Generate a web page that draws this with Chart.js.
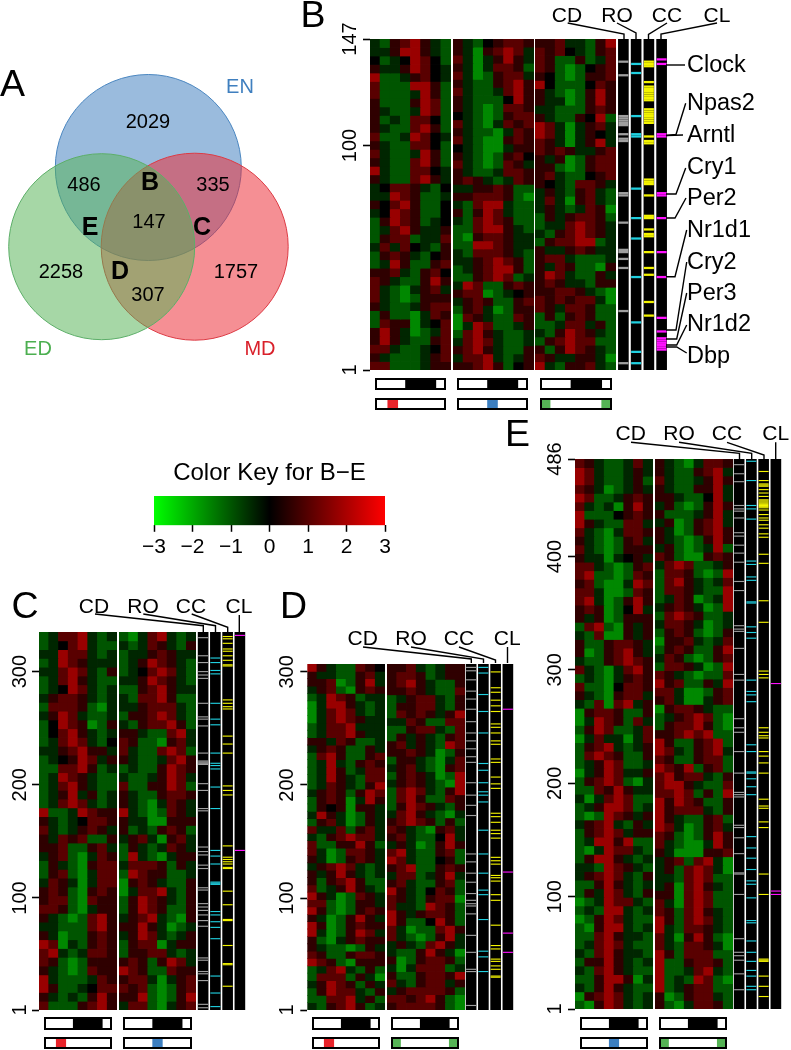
<!DOCTYPE html>
<html><head><meta charset="utf-8">
<script src="https://cdn.jsdelivr.net/npm/chart.js@4"></script>
<style>
html,body{margin:0;padding:0;background:#fff}
#page{position:relative;width:791px;height:1050px;overflow:hidden;font-family:"Liberation Sans",Arial,sans-serif}
canvas{position:absolute;display:block}
.t{position:absolute;white-space:nowrap;line-height:1;color:#000;transform:translate(-50%,-50%);z-index:5}
.l{transform:translate(0,-50%)}
</style></head><body><div id="page"></div>
<script>
/* ---------- values ---------- */
const vennSets=[{name:'ED',x:101.7,y:246.7,r:93,fill:'rgba(84,178,84,.52)',line:'#5cae68'},
{name:'MD',x:194.7,y:246.7,r:93.5,fill:'rgba(236,40,50,.52)',line:'#dc3a44'},
{name:'EN',x:148.3,y:167.5,r:93,fill:'rgba(62,125,190,.52)',line:'#4a86c0'}];
const vennCounts=[['2029',148,121],['486',84,184],['335',213,184],['147',149,221],['2258',61,271],['1757',236,271],['307',148,294]];
const vennLetters=[['B',150,181],['E',90,226],['C',202,226],['D',120,270]];
const keyStops=[-3,0,3];
const strengths={G:-1.6,g:-1,h:-.45,'.':0,s:.55,r:1.05,R:1.8};

const heatB_MD=["hgsrRshg","hhsRRshg",".gh.Rr.g","shhsRr.h","Rgghsr.h","rgggRRsg","rggghRsg","sgggsRrg","shgghRrg","sghgrr.g","shggrRsg","rgghRr.h","shggrr.g","rhgghRsg","shggrRsg","Rhggrr.h","shggrRsh","h.rrshg.","hhRrsggh","s.rRsgg.","h.Rrsgg.","gsRrsgh.","ghrRshhs","gsrrghhr","hrhr.hgs","gsrshg.s","ghRsggsr","ssrhgsr.","rshggsRs","rhgGhsrh","rhgGgsss","shgghsrr","gsggGhrs","grssGh.r","sRshGghr","sRshggsr","rrhggh.r","shggghsr","rrggghss"];
const heatB_EN=["shg.srrs","shGsrRrh","rhGhsRsh","shGhrrsg","rhGgsrrh","shggsrRs","rhgghrRs","shggg.Rs","shgGgrrs",".hgGgsrr","rhgGhrsr","shggGhrs","rhgGGsrs",".hgGGhss","shgGgsr.","rhgGgrsh","shgghrrs","srshghrs","hhssrsgg","ssrrrsgG","hgrRRhgg","sgsRrhgg","hgrRrsgg","ggrRRshg","gGsrrshh","ggRRrshh","hgrrrshg","hhsrRrsg","ghsrRRsg","ggsrRrgh","hRrggsrs","srrGgh.s","hsrsggsr","gsrhGgss","Grshggrs","GhRrgghs","grRshggh","hrRrhggh","srRshggs","hrrRhghs","ssrRsg.s"];
const heatB_ED=["ssrhhgsR","rsr.hgsr","rsggsghr","rsgGg.sr","s.gGgssr","R.ggg.rs","shgGgsRs","shhGgsRs","hhgggsrs","shggs.Rg","RrhGhsrh","RrhGhs.h","rshGhsRh","rsrshhsr","shsGgsrr","ssgGgsrr","srhgg.sr","s.hgrrsh","hshgsrhg","hrhGsrhg","hshghrsG","gshsrrsg","ghhrRrsh","hgsrRrsh","gsrrRRgh","shhsrshh","srrhgggh","shrsggGs","sRrhggsh","srshhgss","ssrrshgG","rsrsrrhG","rshrrsgg","gsgsrsgg","gghrrhsg","hgsRrshg","gsrRrrgg","sgsRrshg","rshhsshG","Rhgssrhg"];

const heatC_MD=["ghrrRhgh","gh.rRhgg","hhRrrhgh","ghRrshhh","hhrRrhgs","ghrRshgg","gh.Rrhgh","hsrrshgh","grrrsgGh","hsRrhggh","g.RrsGgs","g.rRshgh","ghrRrhg.","hhsrRssh","gh.sRrhs","ggrrRsgh","ghRrshgg","ghrRshgg","ghsRhsgh","ghrRrhgh","RgghRrss","shgh.rrs","rhghsrsh","shrsrggs","ssrggsrh","hsrgGhrs","gshgGsrr","gsrgGhrr","hrshGhrr","srsgGsrs","srrgGrss","rrsgGhss","shgGgrRs","hhgggrRs","shGggsrs","RrGhgsrs","rRhghrrs","rsgGgsss","shgGgrss","Rhggghrs","Rsggh.rr","shghgsRs","rgggsrRs"];
const heatC_EN=["gGhrRhgh","hghrshgs","ghhsrshh","ghsRrshg","gh.rRrhg","hhsRrshg","ggsrRshh","hgrrRsgg","hhsrrrhg","gssrRrhg","hgsrrRsg","sshggrRh","rsggGsrh","rhggrRrg","shgghrRs","ghggsRrs","hgghsRrh","rggssRrg","shggsrrs","shgGhrsh","RhgGgrsh","shhGGsss","sghgsrsg","hsrhGsrh","gshghrsh","gRhgGhss","hrrrsgsh","gRrssggh","Gsrshggs","GhrrRhgs","gsRrshgs","gsRrsggs","hsrRhgGs","ssRshGgh","hsRrhghs","gsrrGhss","gssrrhgh","srsgsRrh","Rrsggrss","srrhGhsr","rsrgGgsr","ssRgGgsR","hrrgGhsr"];

const heatD_MD=["Rshggrs.","shhggsrh","ssrGgsRh","hsrgGsrs","ghRrsghh","GhRRshgh","GhrRrhgh","GhrRrshh","ghrrRhhh","ghrrRshh","sshrsggh","hsrsggsh","grRsggsr","ghRhgsrs","ghRsghrr","ghRshgrr","ghrshgsR","hsrsgsRr","gsrsGhRs","gs.sGssh","hRshGgsh","gsrhGgsh","rhhrgsrh","hgsrRrrh","rggssRsg","rhGgrrsh","shGgsrsh","hsrRrhgh","shsRshgh","sgsrRsgg","rghsRshg","RshGgrsh","rrgGgssh","RsgGgsrs","shGgsRsh","RsGgsrss","RhGgsRrh","sgGhsrss","shggGgsh","rsggsrrs","RrsgGsss","ghrRhgsg","grrrgshG","hsRrsgsh","gsRrrhgs","ggrrRhsg","hgsrRsgh"];
const heatD_ED=["ssrhghss","srrsghss","srRshggs","ssrshggr","ghsrrhgs","gssrrhgs","grsrshsR","hhrsggrr","ggsrrhgr","gshshgsr","srhshgRr","ssrshGgs","gsshgGhr","hsrhgGsr","gsrshGgR","hsrshgGR","grRrhgsR","grRsggrs","gsRrshgs","hrRshgGh","srRrsgsg","rshgGsrh","srhgg.Rh","hshGgsRs","rRhggsrg","Rrhgg.sg","srRggsrs","hrrghsRh","srhggsrg","Rshg.rsg","rshgsrrG","rhhgRrsg","Rshsrrsg","Rsgg.Rsg","rhGggrRs","rhgGgsRh","hshgrRsh","hggsRshG","sGgsrrsg","hGhrrrgh","sggsrrsR","rhgsrrhs","hsrrrrsg","rrsrRsgG","srrrrsgG"];

const heatE_EN=["rshgghrh","Rrhgghsh","Rrhgghsg","rshGghsh","Rrgghsrs","rhghGsRs","Rggg.srs","Rshggrrh","rhgGhrrs","shgGgsrh","rhgGgsss","shhGh.sh","rrhgGgsr","rRggGgrs","srgGGhRr","rrhGGgrs","rRhGgsRs","srsGg.Rh","shsGgsss","grRgGshs","hgrGGshs","sggsrrsh","sGgsrRsh","hggsrRrs","rhgGhrRs","ghgGhsrs","rggG.rrs","shgGsrrh","hgrGrRhs","Gsrrsggs","GhRrsgrh","gsRrgghr","GhrhhGhr","gsrRhghs","grRrsggs","ghsRrggh","GhsRrhhs","gsrRrgGh","ggrsRshh","hGhrRrgg","ghsRRrgh","gGgRrshs","hsrRhgsh","gsrRrhss","ghRRsRgg","gGhRrrhg","gsRRshgh","hhgRrshg","hsrRrhgs","ggsRshgh","gshRrhgs","GghRrrhg","ghgRRhgh","GgsRrhgg","gGsRRhgh","ggrRshhg","ghrRrhgg","hgrRshhg","gssRshgh","hgrRshgg","ggsRRsGh","hgsRshgg","GsrRrhgh","gGsRrhgh"];
const heatE_ED=["shgGhrrs","shggsrRh","rhgghsRs","shggssRh","sshgg.Rh","hsgGgsRs","sggghsRh","hsGgsrRh","shGgsrRs","shgGgsRs","hsgGghRg","rsgGGsrs","hrRrgghs","grrsgGgR","grRshghr","grrshggR","ghrsGghR","hsrshGgR","grRrsggh","hrrshGgh","gsrsgGgs","Gssrhghr","gsrsggsR","hrsgGgsr","grrshGgR","rshgGggr","RsrggshR","rrhGGgsr","srhGGhsr","Gsrrshgg","ghsrRrgG","gsrrRsgG","ssrRrRgg","RsggsrRg","RrhgsrRh","rsggsrrg","RrsRgsrg","rRsrrhgs","rRRshggr","rrRrgsgR","RsRrsggs","Rsrrrhgs","Rshggsrg","RrhGgsrh","rsgGgsRs","rhgGGhRs","shGGGssr","hsrgrRhG","hsgrRrhG","hhgrRrgg","hsGrRshg","ssGrRrgg","rhGrRrgg","rsgrRshg","RsgrRrhg","Rhgrrshg","rhGsRsgG","rhgrrshG","Rsgrrrgg","Rggsrrsg","RgghrRhg","RghgRrgG","Rghsrrgg","sGgsrrhg","sgGhrrsg"];

const hitsB={CD:[137,131,113,112,111,110,109,105,103,102,79,78,66,54,53,50,46,27,4],
RO:[136,132,113,105,104,81,68,59,42,22,9,4],
CC:[137,136,135,128,126,125,124,123,122,121,120,116,115,114,113,112,111,110,104,102,101,85,84,83,78,69,68,63,61,60,53,46,43,31,25],
CL:[138,136,105,104,79,78,68,53,42,24,18,15,14,13,12,11,10]};
const hitsC={CD:[330,314,308,300,297,294,272,260,258,252,228,221,220,219,218,201,195,179,177,145,141,138,129,126,109,107,95,92,89,85,80,75,47,45,35,33,27,6,3],
RO:[312,308,301,298,272,258,253,228,219,217,214,198,179,142,137,130,114,113,112,88,85,79,74,64,31,16,4],
CC:[331,329,325,320,318,314,310,306,305,275,272,269,267,243,236,228,199,195,191,146,136,134,132,130,127,126,106,94,81,80,58,42,41,22],
CL:[332,142]};
const hitsD={CD:[304,301,293,283,276,267,256,246,239,232,225,220,202,191,182,173,139,132,122,114,104,98,95,93,86,67,52,37,35,5],
RO:[304,299,280,265,246,219,213,202,194,191,185,160,139,122,107,103,81,53,48,35],
CC:[300,286,282,275,270,265,254,251,246,239,236,223,220,207,201,197,175,172,167,160,157,153,136,133,130,120,118,115,103,98,76,58,55,46,44,40,37,31,30],
CL:[267,123,69,52]};
const hitsE={CD:[481,473,466,445,442,440,434,421,418,410,403,395,378,370,339,336,334,319,296,291,257,249,245,228,209,192,190,188,163,161,152,138,121,120,102,63,51,48,44,32,18],
RO:[484,467,445,442,433,396,393,382,379,360,359,338,333,328,291,281,278,272,234,228,210,209,204,197,190,153,143,134,124,114,111,99,79,77,61,51,43,35,30,21,18],
CC:[475,467,464,463,462,459,456,453,450,449,448,447,446,445,444,443,441,437,434,432,428,425,420,417,402,394,361,342,299,296,293,249,245,242,240,228,224,218,209,186,180,178,166,161,120,102,45,44,43,30,21,12],
CL:[288,105,102]};
const trackNames=['CD','RO','CC','CL'];
const trackColors={CD:'#a0a0a0',RO:'#20d0e0',CC:'#f4f400',CL:'#ff10ff'};
const stripDark=[[0.43,0.857]];
const stripMD=[[0.18,0.32]], stripEN=[[0.43,0.57]], stripED=[[0,0.14],[0.857,1]];
const geneLabels=[['Clock',65],['Npas2',103],['Arntl',135],['Cry1',167],['Per2',198],['Nr1d1',230],['Cry2',262],['Per3',293],['Nr1d2',324],['Dbp',356]];
const leaders=[
[[567.7,23],[624,34],[624,39]],[[617,23],[636,33],[636,39]],[[667,23],[648.5,34.5],[648.5,39]],[[717,23],[661,34],[661,39]],
[[666,65],[685,65]],[[666,135.5],[683,135]],[[666,135.5],[676,134.5],[685.7,103.3]],[[666,194],[676,194],[685.7,168]],[[666,218],[675,218],[686,198]],
[[666,276.7],[675,276.7],[686.7,230]],[[666,330],[676,330],[686.7,262]],[[666,339],[676.7,339],[686.7,293]],[[666,345],[676.7,345],[686.7,325]],[[666,347],[676.7,347],[686.7,353]],
[[95,614],[203.3,625.7],[203.3,632]],[[143.3,614],[215.5,625.7],[215.5,632]],[[191.7,614],[227.7,627.3],[227.7,632]],[[239.3,615],[239.3,632]],
[[363,647],[471.3,659],[471.3,663]],[[411,647],[483.5,659],[483.5,663]],[[459,647],[495.5,660],[495.5,663]],[[507.5,647],[507.5,663]],
[[631,442.3],[739.5,453.3],[739.5,459]],[[679,442.3],[751.7,453.3],[751.7,459]],[[727,442.3],[764,455],[764,459]],[[775.7,442.3],[775.7,459]]];

/* ---------- helpers ---------- */
const page=document.getElementById('page');
const FONT='"Liberation Sans",Arial,sans-serif';
Chart.defaults.font.family=FONT;
Chart.defaults.animation=false;
Chart.defaults.responsive=false;
Chart.defaults.plugins.legend.display=false;
Chart.defaults.plugins.tooltip.enabled=false;
function mount(x,y,w,h,z){const c=document.createElement('canvas');c.width=w;c.height=h;
 c.style.cssText=`left:${x}px;top:${y}px;width:${w}px;height:${h}px;z-index:${z||1}`;page.appendChild(c);return c;}
function text(s,x,y,size,o={}){const d=document.createElement('div');d.className='t'+(o.left?' l':'');d.textContent=s;
 d.style.left=x+'px';d.style.top=y+'px';d.style.fontSize=size+'px';if(o.bold)d.style.fontWeight='bold';if(o.color)d.style.color=o.color;page.appendChild(d);}
function colorOf(v){const k=Math.round(Math.min(1,Math.abs(v)/3)*255);return v<0?`rgb(0,${k},0)`:`rgb(${k},0,0)`;}
const hiddenX={type:'category',display:false,offset:true,grid:{display:false}};

function heat(rows,n,x0,x1,top,bottom,ticks,labelCx){
 const axisW=ticks?x0-Math.max(0,labelCx-24):0, pad=ticks?30:0;
 const w=x1-x0+axisW, L=x0-axisW;
 const cv=mount(L,top-pad,Math.ceil(w),Math.ceil(bottom-top+2*pad));
 const cols=['1','2','3','4','5','6','7','8'];
 const step=(n-1)/rows.length;
 const datasets=rows.map((r,i)=>{const hi=n-i*step, lo=n-(i+1)*step;
  return {data:cols.map(()=>[lo,hi]),backgroundColor:cols.map((c,j)=>colorOf(strengths[r[j]]||0)),grouped:false,barPercentage:1,categoryPercentage:1,borderWidth:0,inflateAmount:0.4};});
 new Chart(cv,{type:'bar',data:{labels:cols,datasets},options:{
  layout:{padding:{top:pad,bottom:pad,left:0,right:0}},
  scales:{x:hiddenX,y:{type:'linear',display:!!ticks,min:1,max:n,afterFit(s){s.width=axisW;},
   afterBuildTicks(s){if(ticks)s.ticks=ticks.map(v=>({value:v}));},
   border:{display:false},grid:{drawOnChartArea:false,tickLength:7,tickColor:'#000',tickWidth:1.6},
   ticks:{autoSkip:false,minRotation:90,maxRotation:90,crossAlign:'center',padding:(x0-labelCx)-7-16.7,color:'#000',font:{size:20},callback:v=>String(v)}}}}});
}
function tracks(hits,n,xs,top,bottom){
 const gap=(xs[3]-xs[0])/3, L=xs[0]-gap/2+5, w=gap*4;
 const cv=mount(L,top,Math.ceil(w),Math.ceil(bottom-top));
 const datasets=[];
 trackNames.forEach(nm=>{const pts=hits[nm].map(r=>({x:nm,y:[r-.5,r+.5]}));
  datasets.push({data:pts,backgroundColor:trackColors[nm],grouped:false,barThickness:10,borderWidth:0,order:0,inflateAmount:0});});
 datasets.push({data:trackNames.map(nm=>({x:nm,y:[1,n]})),backgroundColor:'#000',grouped:false,barThickness:10,borderWidth:0,order:1});
 new Chart(cv,{type:'bar',data:{labels:trackNames,datasets},options:{scales:{x:{...hiddenX},y:{display:false,min:1,max:n}}}});
}
function strip(x0,x1,y0,y1,segs,color){
 const cv=mount(x0-1,y0-1,Math.ceil(x1-x0+2),Math.ceil(y1-y0+2));
 const ds=[{data:[[0,1]],backgroundColor:'rgba(0,0,0,0)',borderColor:'#000',borderWidth:1.7,borderSkipped:false,barPercentage:1,categoryPercentage:1,grouped:false,order:0}];
 segs.forEach(s=>ds.push({data:[s],backgroundColor:color,barPercentage:1,categoryPercentage:1,grouped:false,borderWidth:0,order:1}));
 ds.push({data:[[0,1]],backgroundColor:'#fff',barPercentage:1,categoryPercentage:1,grouped:false,borderWidth:0,order:2});
 new Chart(cv,{type:'bar',data:{labels:['s'],datasets:ds},options:{indexAxis:'y',layout:{padding:1},
  scales:{x:{type:'linear',display:false,min:0,max:1},y:{type:'category',display:false}}}});
}
/* ---------- venn + leaders ---------- */
const over=[];
vennSets.forEach(s=>over.push({type:'bubble',data:[{x:s.x,y:s.y,r:s.r}],backgroundColor:s.fill,borderColor:s.line,borderWidth:1,order:2}));
leaders.forEach(l=>over.push({type:'scatter',showLine:true,data:l.map(p=>({x:p[0],y:p[1]})),borderColor:'#000',borderWidth:1.4,pointRadius:0,fill:false,order:1}));
new Chart(mount(0,0,791,1050,3),{type:'bubble',data:{datasets:over},options:{clip:false,layout:{autoPadding:false,padding:0},
 scales:{x:{type:'linear',display:false,min:0,max:791},y:{type:'linear',display:false,min:0,max:1050,reverse:true}}}});
vennCounts.forEach(c=>text(c[0],c[1],c[2],20));
vennLetters.forEach(c=>text(c[0],c[1],c[2],25,{bold:true}));
text('EN',240,86,20,{color:'#3f7fbf'});text('ED',38,348,20,{color:'#4caf50'});text('MD',260,348,20,{color:'#d9202a'});
/* ---------- panels ---------- */
heat(heatB_MD,147,370,450.3,39,370,[1,100,147],350);
heat(heatB_EN,147,452.7,532.7,39,370);
heat(heatB_ED,147,535.3,616,39,370);
tracks(hitsB,147,[618.3,631,643.7,656],39,370);
strip(375,445.7,377.7,389.7,stripDark,'#000');strip(457.3,528.3,377.7,389.7,stripDark,'#000');strip(540.3,611.7,377.7,389.7,stripDark,'#000');
strip(375,445.7,398,410,stripMD,'#e8232a');strip(457.3,528.3,398,410,stripEN,'#3c7fc0');strip(540.3,611.7,398,410,stripED,'#55b355');

heat(heatC_MD,335,39,116.3,632,1009.3,[1,100,200,300],20);
heat(heatC_EN,335,119,196,632,1009.3);
tracks(hitsC,335,[198.3,210.7,222.7,234.7],632,1009.3);
strip(43.7,111.7,1016.7,1029,stripDark,'#000');strip(123,191.7,1016.7,1029,stripDark,'#000');
strip(43.7,111.7,1037.3,1049.3,stripMD,'#e8232a');strip(123,191.7,1037.3,1049.3,stripEN,'#3c7fc0');

heat(heatD_MD,307,307.3,384.3,663.5,1009.3,[1,100,200,300],287);
heat(heatD_ED,307,387,464.3,663.5,1009.3);
tracks(hitsD,307,[466.3,478.5,490.5,502.7],663.5,1009.3);
strip(311.7,379.3,1016.7,1029,stripDark,'#000');strip(391.3,459.3,1016.7,1029,stripDark,'#000');
strip(311.7,379.3,1037.3,1049.3,stripMD,'#e8232a');strip(391.3,459.3,1037.3,1049.3,stripED,'#55b355');

heat(heatE_EN,486,575,652.3,459,1009,[1,100,200,300,400,486],555);
heat(heatE_ED,486,655,732.3,459,1009);
tracks(hitsE,486,[734.3,746.7,758.7,770.7],459,1009);
strip(579.7,647.7,1016.7,1029,stripDark,'#000');strip(659.3,727.3,1016.7,1029,stripDark,'#000');
strip(579.7,647.7,1037.3,1049.3,stripEN,'#3c7fc0');strip(659.3,727.3,1037.3,1049.3,stripED,'#55b355');

/* ---------- colour key ---------- */
new Chart(mount(124,496,291,70),{type:'bar',data:{labels:['key'],datasets:[{data:[[keyStops[0],keyStops[2]]],barPercentage:1,categoryPercentage:1,borderWidth:0,
 backgroundColor(ctx){const a=ctx.chart.chartArea;if(!a)return '#000';const g=ctx.chart.ctx.createLinearGradient(a.left,0,a.right,0);
  keyStops.forEach((v,i)=>g.addColorStop(i/(keyStops.length-1),colorOf(v)));return g;}}]},
 options:{indexAxis:'y',layout:{padding:{left:30,right:30}},scales:{y:{type:'category',display:false},
  x:{type:'linear',min:-3,max:3,afterFit(s){s.height=70-29.3;},border:{display:false},
   grid:{drawOnChartArea:false,tickLength:6.5,tickColor:'#000',tickWidth:1.5},
   ticks:{stepSize:1,color:'#000',padding:3,maxRotation:0,font:{size:21},callback:v=>(v<0?'\u2212'+(-v):String(v))}}}}});
text('Color Key for B\u2212E',269.5,472,24);

/* ---------- words ---------- */
text('A',12.5,84,37.5);text('B',313,15,37.5);text('C',25,606,37.5);text('D',293.5,606,37.5);text('E',517.5,434,37.5);
[[567,14],[617,14],[667,14],[717,14]].forEach((p,i)=>text(trackNames[i],p[0],p[1],21));
[[94,605],[143,605],[191,605],[239,605]].forEach((p,i)=>text(trackNames[i],p[0],p[1],21));
[[362.7,636.7],[411,636.7],[459,636.7],[507.3,636.7]].forEach((p,i)=>text(trackNames[i],p[0],p[1],21));
[[630.7,431.7],[679,431.7],[727,431.7],[775.7,431.7]].forEach((p,i)=>text(trackNames[i],p[0],p[1],21));
geneLabels.forEach(g=>text(g[0],687,g[1],23.5,{left:true}));
</script></body></html>
